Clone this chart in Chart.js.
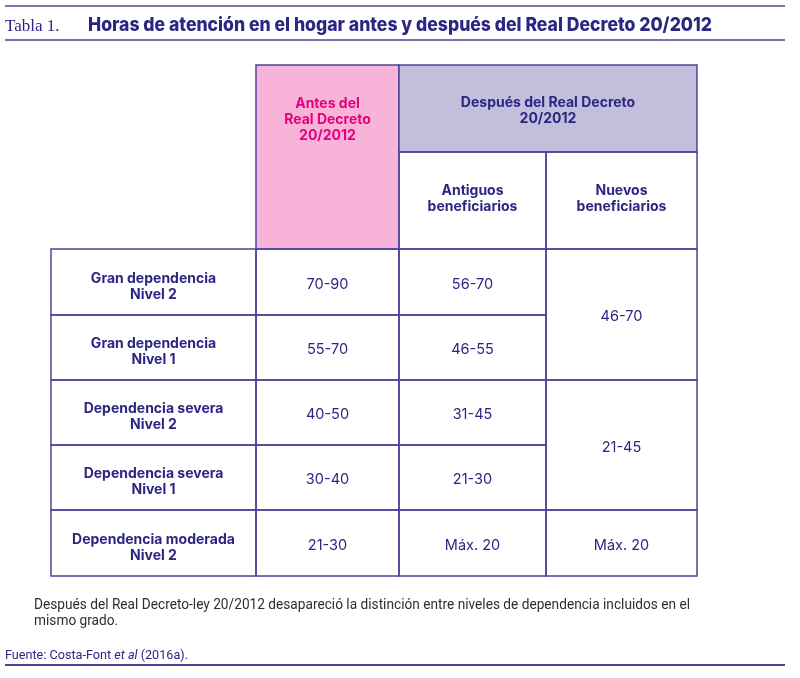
<!DOCTYPE html>
<html><head><meta charset="utf-8">
<script src="https://cdn.jsdelivr.net/npm/chart.js@4"></script>
<style>html,body{margin:0;padding:0;background:#fff}canvas{display:block}</style>
</head><body>
<canvas id="c" width="800" height="678"></canvas>
<script>
// ---- data ----
const tableLabel = "Tabla 1.";
const title = "Horas de atención en el hogar antes y después del Real Decreto 20/2012";
const headerAntes = ["Antes del", "Real Decreto", "20/2012"];
const headerDespues = ["Después del Real Decreto", "20/2012"];
const headerAntiguos = ["Antiguos", "beneficiarios"];
const headerNuevos = ["Nuevos", "beneficiarios"];
const rowLabels = [
  ["Gran dependencia", "Nivel 2"],
  ["Gran dependencia", "Nivel 1"],
  ["Dependencia severa", "Nivel 2"],
  ["Dependencia severa", "Nivel 1"],
  ["Dependencia moderada", "Nivel 2"]
];
const antes = ["70-90", "55-70", "40-50", "30-40", "21-30"];
const antiguos = ["56-70", "46-55", "31-45", "21-30", "Máx. 20"];
const nuevos = ["46-70", "21-45", "Máx. 20"];
const nuevosSpan = [2, 2, 1];
const footnote = ["Después del Real Decreto-ley 20/2012 desapareció la distinción entre niveles de dependencia incluidos en el", "mismo grado."];
const source = ["Fuente: Costa-Font ", "et al", " (2016a)."];

// ---- layout (grid positions in axis units) ----
const colEdges = [51, 256, 399, 546, 697];
const headEdges = [65, 152, 249];
const rowEdges = [249, 315, 380, 445, 510, 576];

const NAVY = "#2c2683", BORDER = "#4d4399", PINK = "#f7b3d8", PINKTXT = "#e5007e", LAV = "#c2bedc";

const tablePlugin = {
  id: "tablePlugin",
  afterDraw(chart) {
    const ctx = chart.ctx, X = chart.scales.x, Y = chart.scales.y;
    const px = v => X.getPixelForValue(v), py = v => Y.getPixelForValue(v);
    const font = (w, s) => `${w} ${s}px Inter, Roboto, 'Noto Sans', sans-serif`;
    function lines(arr, cx, cy, f, color, lh) {
      ctx.save(); ctx.font = f; ctx.fillStyle = color; ctx.textAlign = "center"; ctx.textBaseline = "middle";
      const n = arr.length;
      arr.forEach((t, i) => ctx.fillText(t, cx, cy + (i - (n - 1) / 2) * lh));
      ctx.restore();
    }
    function rect(x0, y0, x1, y1, fill) {
      const a = px(x0), b = py(y0), w = px(x1) - a, h = py(y1) - b;
      if (fill) { ctx.fillStyle = fill; ctx.fillRect(a, b, w, h); }
      ctx.strokeStyle = BORDER; ctx.lineWidth = 1.5; ctx.strokeRect(a, b, w, h);
    }
    function hline(x0, x1, y, w) {
      ctx.save(); ctx.strokeStyle = BORDER; ctx.lineWidth = w; ctx.beginPath();
      ctx.moveTo(px(x0), py(y)); ctx.lineTo(px(x1), py(y)); ctx.stroke(); ctx.restore();
    }
    function fitText(t, x, y, target, f, color) {
      ctx.save(); ctx.font = f; ctx.fillStyle = color; ctx.textBaseline = "alphabetic"; ctx.textAlign = "left";
      const w = ctx.measureText(t).width; const s = target / w;
      ctx.translate(x, y); ctx.scale(s, 1); ctx.fillText(t, 0, 0); ctx.restore();
      return s;
    }

    // title area
    hline(5, 785, 6, 1.5);
    hline(5, 785, 40, 1.5);
    ctx.save(); ctx.font = "17px 'Liberation Serif', 'DejaVu Serif', serif"; ctx.fillStyle = NAVY;
    ctx.textBaseline = "alphabetic"; ctx.fillText(tableLabel, px(5), py(31)); ctx.restore();
    fitText(title, px(88), py(31), px(712) - px(88), font(800, 19), NAVY);

    const bf = font(700, 14), nf = font(400, 14.5), LH = 16;
    // header cells
    rect(colEdges[1], headEdges[0], colEdges[2], headEdges[2], PINK);
    rect(colEdges[2], headEdges[0], colEdges[4], headEdges[1], LAV);
    rect(colEdges[2], headEdges[1], colEdges[3], headEdges[2], null);
    rect(colEdges[3], headEdges[1], colEdges[4], headEdges[2], null);
    lines(headerAntes, (px(colEdges[1]) + px(colEdges[2])) / 2, py(119.5), bf, PINKTXT, LH);
    lines(headerDespues, (px(colEdges[2]) + px(colEdges[4])) / 2, py(111), bf, NAVY, LH);
    lines(headerAntiguos, (px(colEdges[2]) + px(colEdges[3])) / 2, py(198.5), bf, NAVY, LH);
    lines(headerNuevos, (px(colEdges[3]) + px(colEdges[4])) / 2, py(198.5), bf, NAVY, LH);

    // body rows
    rowLabels.forEach((lab, i) => {
      const y0 = rowEdges[i], y1 = rowEdges[i + 1];
      const cy = (py(y0) + py(y1)) / 2;
      rect(colEdges[0], y0, colEdges[1], y1, null);
      rect(colEdges[1], y0, colEdges[2], y1, null);
      rect(colEdges[2], y0, colEdges[3], y1, null);
      lines(lab, (px(colEdges[0]) + px(colEdges[1])) / 2, cy + 4.5, bf, NAVY, LH);
      lines([antes[i]], (px(colEdges[1]) + px(colEdges[2])) / 2, cy + 2.5, nf, NAVY, LH);
      lines([antiguos[i]], (px(colEdges[2]) + px(colEdges[3])) / 2, cy + 2.5, nf, NAVY, LH);
    });
    let r = 0;
    nuevos.forEach((t, k) => {
      const y0 = rowEdges[r], y1 = rowEdges[r + nuevosSpan[k]];
      rect(colEdges[3], y0, colEdges[4], y1, null);
      lines([t], (px(colEdges[3]) + px(colEdges[4])) / 2, (py(y0) + py(y1)) / 2 + 2.5, nf, NAVY, LH);
      r += nuevosSpan[k];
    });

    // footnote
    const ff = "400 14.5px 'Liberation Sans Narrow', 'Roboto', sans-serif";
    const s = fitText(footnote[0], px(34), py(609), px(690) - px(34), ff, "#2e2e2e");
    ctx.save(); ctx.font = ff; ctx.fillStyle = "#2e2e2e"; ctx.translate(px(34), py(625)); ctx.scale(s, 1);
    ctx.fillText(footnote[1], 0, 0); ctx.restore();

    // source
    ctx.save(); ctx.fillStyle = NAVY; ctx.textBaseline = "alphabetic";
    const sf = "400 13px 'Liberation Sans Narrow', 'Roboto', sans-serif";
    const sfi = "italic 400 13px 'Liberation Sans Narrow', 'Roboto', sans-serif";
    ctx.font = sf; const w0 = ctx.measureText(source[0]).width, w2 = ctx.measureText(source[2]).width;
    ctx.font = sfi; const w1 = ctx.measureText(source[1]).width;
    const ss = (px(188) - px(5)) / (w0 + w1 + w2);
    ctx.translate(px(5), py(659)); ctx.scale(ss, 1);
    ctx.font = sf; ctx.fillText(source[0], 0, 0);
    ctx.font = sfi; ctx.fillText(source[1], w0, 0);
    ctx.font = sf; ctx.fillText(source[2], w0 + w1, 0);
    ctx.restore();
    hline(5, 785, 665, 2);
  }
};

new Chart(document.getElementById("c"), {
  type: "scatter",
  data: { datasets: [{ data: [], showLine: false }] },
  options: {
    responsive: false, animation: false, devicePixelRatio: 1,
    layout: { padding: 0 },
    plugins: { legend: { display: false }, tooltip: { enabled: false } },
    scales: {
      x: { type: "linear", min: 0, max: 800, display: false },
      y: { type: "linear", min: 0, max: 678, reverse: true, display: false }
    }
  },
  plugins: [tablePlugin]
});
</script>
</body></html>
